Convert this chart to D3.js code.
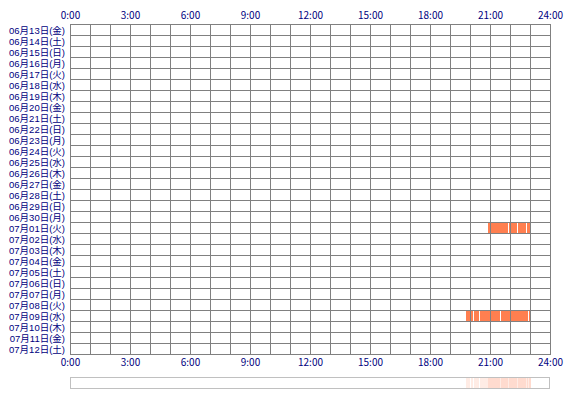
<!DOCTYPE html>
<html>
<head>
<meta charset="utf-8">
<script src="https://cdn.jsdelivr.net/npm/d3@7"></script>
<style>
  body { margin: 0; background: #fff; }
  text { font-family: "Noto Sans CJK JP", sans-serif; font-size: 10px; fill: #000080; }
  .days text { font-family: "Liberation Sans", "Noto Sans CJK JP", sans-serif; font-size: 9.5px; }
</style>
</head>
<body>
<svg id="chart"></svg>
<script>
const days = [
  "06月13日(金)", "06月14日(土)", "06月15日(日)", "06月16日(月)", "06月17日(火)",
  "06月18日(水)", "06月19日(木)", "06月20日(金)", "06月21日(土)", "06月22日(日)",
  "06月23日(月)", "06月24日(火)", "06月25日(水)", "06月26日(木)", "06月27日(金)",
  "06月28日(土)", "06月29日(日)", "06月30日(月)", "07月01日(火)", "07月02日(水)",
  "07月03日(木)", "07月04日(金)", "07月05日(土)", "07月06日(日)", "07月07日(月)",
  "07月08日(火)", "07月09日(水)", "07月10日(木)", "07月11日(金)", "07月12日(土)"
];
const hourTicks = [0, 3, 6, 9, 12, 15, 18, 21, 24];

// activity sessions: day, start, end
const sessionDays = ["07月01日(火)", "07月01日(火)", "07月01日(火)", "07月01日(火)",
  "07月09日(水)", "07月09日(水)", "07月09日(水)", "07月09日(水)", "07月09日(水)", "07月09日(水)"];
const sessionStart = ["20:54", "21:57", "22:24", "22:51",
  "19:48", "20:03", "20:12", "20:30", "21:33", "22:57"];
const sessionEnd = ["21:57", "22:24", "22:51", "23:05",
  "20:03", "20:12", "20:30", "21:33", "22:57", "23:06"];

const toMin = s => { const p = s.split(":"); return +p[0] * 60 + +p[1]; };
const sessions = sessionDays.map((d, i) => ({ day: d, start: toMin(sessionStart[i]), end: toMin(sessionEnd[i]) }));

const width = 570, height = 400;
const gridLeft = 70, gridRight = 550, gridTop = 24, gridBottom = 354;

const svg = d3.select("#chart").attr("width", width).attr("height", height);

const x = d3.scaleLinear().domain([0, 24 * 60]).range([gridLeft, gridRight]);
const xh = d3.scaleLinear().domain([0, 24]).range([gridLeft, gridRight]);
const y = d3.scaleBand().domain(days).range([gridTop, gridBottom]);

// activity bars
svg.append("g").selectAll("rect")
  .data(sessions)
  .enter()
  .append("rect")
  .attr("x", d => Math.round(x(d.start)))
  .attr("y", d => y(d.day) + 1)
  .attr("width", d => Math.max(1, Math.round(x(d.end)) - Math.round(x(d.start)) - 1))
  .attr("height", y.bandwidth() - 1)
  .attr("fill", "#ff7f50")
  .attr("shape-rendering", "crispEdges");

// grid
const grid = svg.append("g").attr("stroke", "#808080").attr("shape-rendering", "crispEdges");
grid.selectAll(".vline")
  .data(d3.range(0, 25))
  .enter()
  .append("line")
  .attr("x1", d => Math.round(xh(d)) + 0.5)
  .attr("x2", d => Math.round(xh(d)) + 0.5)
  .attr("y1", gridTop)
  .attr("y2", gridBottom + 1);
grid.selectAll(".hline")
  .data(days.concat([null]))
  .enter()
  .append("line")
  .attr("x1", gridLeft)
  .attr("x2", gridRight + 1)
  .attr("y1", d => (d ? y(d) : gridBottom) + 0.5)
  .attr("y2", d => (d ? y(d) : gridBottom) + 0.5);

// axes
const topAxis = d3.axisTop(xh).tickValues(hourTicks).tickSize(0).tickPadding(0)
  .tickFormat(d => d + ":00");
svg.append("g")
  .attr("transform", `translate(0, ${gridTop - 5})`)
  .call(topAxis);

const bottomAxis = d3.axisBottom(xh).tickValues(hourTicks).tickSize(0).tickPadding(0)
  .tickFormat(d => d + ":00");
svg.append("g")
  .attr("transform", `translate(0, ${gridBottom + 5})`)
  .call(bottomAxis);

const leftAxis = d3.axisLeft(y).tickSize(0).tickPadding(5);
svg.append("g")
  .attr("class", "days")
  .attr("transform", `translate(${gridLeft}, 1)`)
  .call(leftAxis);

svg.selectAll(".domain").remove();
svg.selectAll(".tick text").attr("fill", "#000080").attr("font-family", null).attr("font-size", null);

// summary strip
const sumTop = 377, sumBottom = 388;
svg.append("g").selectAll("rect")
  .data(sessions)
  .enter()
  .append("rect")
  .attr("x", d => Math.round(x(d.start)))
  .attr("y", sumTop)
  .attr("width", d => Math.max(1, Math.round(x(d.end)) - Math.round(x(d.start)) - 1))
  .attr("height", sumBottom - sumTop)
  .attr("fill", "#ff7f50")
  .attr("fill-opacity", 0.15)
  .attr("shape-rendering", "crispEdges");

svg.append("rect")
  .attr("x", gridLeft + 0.5)
  .attr("y", sumTop + 0.5)
  .attr("width", gridRight - gridLeft - 1)
  .attr("height", sumBottom - sumTop)
  .attr("fill", "none")
  .attr("stroke", "#c0c0c0")
  .attr("shape-rendering", "crispEdges");
</script>
</body>
</html>
